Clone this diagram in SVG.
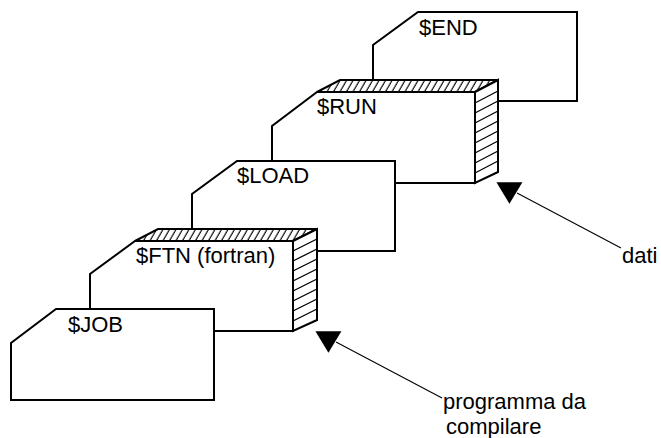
<svg xmlns="http://www.w3.org/2000/svg" width="661" height="438" viewBox="0 0 661 438">
  <style>
    .card { fill: #fff; stroke: #000; stroke-width: 2; stroke-linejoin: miter; }
    .face-top { fill: url(#hatchTop); stroke: #000; stroke-width: 2; stroke-linejoin: miter; }
    .face-side { fill: #fff; stroke: #000; stroke-width: 2; stroke-linejoin: miter; }
    .hatch { stroke: #000; stroke-width: 1.3; }
    .label { font-family: "Liberation Sans", Arial, sans-serif; font-size: 22px; fill: #000; }
    .pointer { stroke: #000; stroke-width: 1.1; fill: none; marker-start: url(#tri); }
  </style>
  <defs>
    <!-- slanted hatching for the top faces of the raised cards -->
    <pattern id="hatchTop" patternUnits="userSpaceOnUse" width="6.5" height="20" patternTransform="skewX(-30)">
      <rect width="6.5" height="20" fill="#fff"/>
      <line x1="3" y1="0" x2="3" y2="20" stroke="#000" stroke-width="1.3"/>
    </pattern>
    <!-- downward pointing solid triangle -->
    <marker id="tri" markerUnits="userSpaceOnUse" markerWidth="26" markerHeight="22" viewBox="0 0 24 20" refX="19" refY="10" orient="0" overflow="visible">
      <path d="M0,0 L24,0 L12,20 Z" fill="#000"/>
    </marker>
  </defs>

  <!-- $END -->
  <g id="card-end">
    <polygon class="card" points="418,12 577,12 577,101 373,101 373,45"/>
    <text class="label" x="419" y="35">$END</text>
  </g>

  <!-- $RUN (raised card) -->
  <g id="card-run">
    <polygon class="card" points="317,92 475,92 475,183 272,183 272,126"/>
    <polygon class="face-top" points="317,92 340,80 498,80 475,92"/>
    <polygon class="face-side" points="475,92 498,80 498,172 475,183"/>
    <g class="hatch">
      <line x1="475" y1="103" x2="498" y2="91"/>
      <line x1="475" y1="113" x2="498" y2="101"/>
      <line x1="475" y1="123" x2="498" y2="111"/>
      <line x1="475" y1="133" x2="498" y2="121"/>
      <line x1="475" y1="143" x2="498" y2="131"/>
      <line x1="475" y1="153" x2="498" y2="141"/>
      <line x1="475" y1="163" x2="498" y2="151"/>
      <line x1="475" y1="173" x2="498" y2="161"/>
    </g>
    <text class="label" x="317" y="114">$RUN</text>
  </g>

  <!-- $LOAD -->
  <g id="card-load">
    <polygon class="card" points="237,161 395,161 395,251 192,251 192,194"/>
    <text class="label" x="237" y="183">$LOAD</text>
  </g>

  <!-- $FTN (raised card) -->
  <g id="card-ftn">
    <polygon class="card" points="135,241 293,241 293,331 90,331 90,274"/>
    <polygon class="face-top" points="135,241 158,229 317,229 293,241"/>
    <polygon class="face-side" points="293,241 317,229 317,320 293,331"/>
    <g class="hatch">
      <line x1="293" y1="251" x2="317" y2="239"/>
      <line x1="293" y1="261" x2="317" y2="249"/>
      <line x1="293" y1="271" x2="317" y2="259"/>
      <line x1="293" y1="281" x2="317" y2="269"/>
      <line x1="293" y1="291" x2="317" y2="279"/>
      <line x1="293" y1="301" x2="317" y2="289"/>
      <line x1="293" y1="311" x2="317" y2="299"/>
      <line x1="293" y1="321" x2="317" y2="309"/>
    </g>
    <text class="label" x="136" y="263">$FTN (fortran)</text>
  </g>

  <!-- $JOB -->
  <g id="card-job">
    <polygon class="card" points="56,309 214,309 214,400 11,400 11,343"/>
    <text class="label" x="68" y="332">$JOB</text>
  </g>

  <!-- pointers from the side labels -->
  <g id="connectors">
    <line class="pointer" x1="517" y1="193" x2="621" y2="248"/>
    <line class="pointer" x1="336" y1="342" x2="442" y2="398"/>
  </g>

  <g id="label-dati">
    <text class="label" x="622" y="263">dati</text>
  </g>
  <g id="label-programma">
    <text class="label" x="443" y="409">programma da</text>
    <text class="label" x="446" y="434">compilare</text>
  </g>
</svg>
